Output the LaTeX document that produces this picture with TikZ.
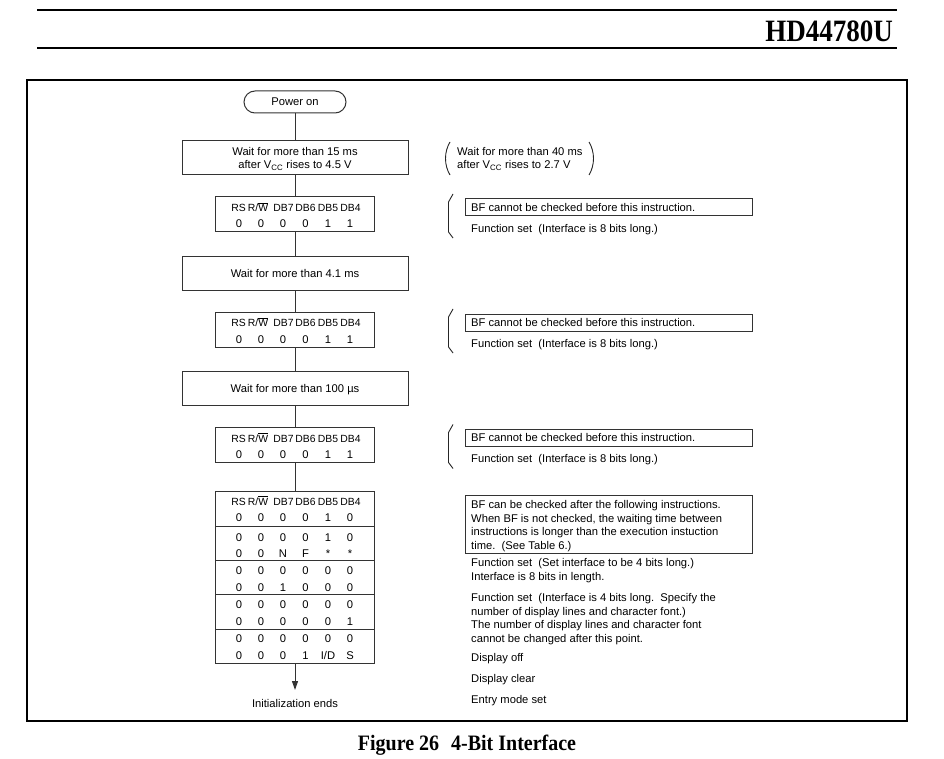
\documentclass[tikz,border=0pt]{standalone}
\usepackage{fontspec}
\setmainfont{Liberation Sans}
\newfontfamily\serifb{Liberation Serif}
\usetikzlibrary{arrows.meta}
\tikzset{
  lnc/.style={draw=black!80, line width=1pt},
  flowbox/.style={lnc, minimum width=226pt, minimum height=34pt, inner sep=0pt, align=center,
    font=\fontsize{11.2}{12}\selectfont},
  rsbox/.style={lnc, minimum width=159pt, minimum height=35pt, inner sep=0pt},
  notebox/.style={lnc, minimum width=287pt, minimum height=17pt, inner sep=0pt},
  conn/.style={draw=black!80, line width=1pt},
  txt/.style={inner sep=0pt, text height=8pt, text depth=0pt, font=\fontsize{11.2}{13.5}\selectfont},
  htxt/.style={inner sep=0pt, text height=8pt, text depth=0pt, font=\fontsize{10.4}{12}\selectfont},
  ltxt/.style={txt, anchor=west},
  brk/.style={draw=black!85, line width=0.9pt},
}
\newcommand\sixcells[8]{%
  \node[txt] (#1-1) at (239,#2) {#3};
  \node[txt] (#1-2) at (261,#2) {#4};
  \node[txt] (#1-3) at (283,#2) {#5};
  \node[txt] (#1-4) at (305.5,#2) {#6};
  \node[txt] (#1-5) at (328,#2) {#7};
  \node[txt] (#1-6) at (350,#2) {#8};}
\newcommand\headcells[2]{%
  \node[htxt] (#1-1) at (238.5,#2) {RS};
  \node[htxt] (#1-2) at (258,#2) {R/$\overline{\hbox{W}}$};
  \node[htxt] (#1-3) at (283.5,#2) {DB7};
  \node[htxt] (#1-4) at (305.5,#2) {DB6};
  \node[htxt] (#1-5) at (328,#2) {DB5};
  \node[htxt] (#1-6) at (350.5,#2) {DB4};}
\begin{document}
\begin{tikzpicture}[x=1pt,y=-1pt]
\path[use as bounding box, fill=white] (0,0) rectangle (944,759);
% header
\draw[line width=2.5pt] (37,10) -- (897,10);
\draw[line width=2.5pt] (37,48) -- (897,48);
\node[anchor=base east, inner sep=0pt, font=\serifb\bfseries\fontsize{27}{30}\selectfont] (title) at (893,42) {\scalebox{1}[1.15]{HD44780U}};
% frame
\draw[line width=2pt] (27,80) rectangle (907,721);
% caption
\node[anchor=base, inner sep=0pt, font=\serifb\bfseries\fontsize{20}{24}\selectfont] (caption) at (467,750) {\scalebox{1}[1.1]{Figure 26\hspace{0.6em}4-Bit Interface}};

% flow
\node[lnc, rounded corners=11pt, minimum width=102pt, minimum height=22pt, inner sep=0pt, text height=8pt, text depth=0pt, font=\fontsize{11.2}{13.5}\selectfont] (pwr) at (295,102) {Power on};
\node[flowbox] (wait1) at (295,158) {};
\node[txt] (w1a) at (295,152) {Wait for more than 15 ms};
\node[txt] (w1b) at (295,164.5) {after V\textsubscript{CC} rises to 4.5 V};
\node[rsbox] (rs1) at (295,214.5) {};
\node[flowbox, text height=8pt, text depth=0pt] (wait2) at (295,273) {Wait for more than 4.1 ms};
\node[rsbox] (rs2) at (295,329.5) {};
\node[flowbox, text height=8pt, text depth=0pt] (wait3) at (295,388) {Wait for more than 100 µs};
\node[rsbox] (rs3) at (295,445) {};
\node[lnc, minimum width=159pt, minimum height=172pt, inner sep=0pt] (tab) at (295,577) {};
\coordinate (endp) at (295,690);

\draw[conn] (pwr) -- (wait1);
\draw[conn] (wait1) -- (rs1);
\draw[conn] (rs1) -- (wait2);
\draw[conn] (wait2) -- (rs2);
\draw[conn] (rs2) -- (wait3);
\draw[conn] (wait3) -- (rs3);
\draw[conn] (rs3) -- (tab);
\draw[conn, -{Triangle[length=9pt,width=6pt]}] (tab) -- (endp);
\node[txt] (iends) at (295,703) {Initialization ends};

% table separators
\draw[conn] (tab.west |- 0,526) -- (tab.east |- 0,526);
\draw[conn] (tab.west |- 0,560.5) -- (tab.east |- 0,560.5);
\draw[conn] (tab.west |- 0,594.5) -- (tab.east |- 0,594.5);
\draw[conn] (tab.west |- 0,629) -- (tab.east |- 0,629);

% cells
\headcells{h1}{207.5}
\sixcells{v1}{224}{0}{0}{0}{0}{1}{1}
\headcells{h2}{322.5}
\sixcells{v2}{339}{0}{0}{0}{0}{1}{1}
\headcells{h3}{438}
\sixcells{v3}{454.5}{0}{0}{0}{0}{1}{1}
\headcells{h4}{501}
\sixcells{t1}{517}{0}{0}{0}{0}{1}{0}
\sixcells{t2}{537}{0}{0}{0}{0}{1}{0}
\sixcells{t3}{553}{0}{0}{N}{F}{*}{*}
\sixcells{t4}{570}{0}{0}{0}{0}{0}{0}
\sixcells{t5}{587}{0}{0}{1}{0}{0}{0}
\sixcells{t6}{604}{0}{0}{0}{0}{0}{0}
\sixcells{t7}{621}{0}{0}{0}{0}{0}{1}
\sixcells{t8}{638}{0}{0}{0}{0}{0}{0}
\sixcells{t9}{655}{0}{0}{0}{1}{I/D}{S}

% right notes
\draw[brk] (450,142) .. controls (444,152) and (444,165) .. (450,175);
\draw[brk] (589,142) .. controls (595,152) and (595,165) .. (589,175);
\node[ltxt] (n0a) at (457,152) {Wait for more than 40 ms};
\node[ltxt] (n0b) at (457,164.5) {after V\textsubscript{CC} rises to 2.7 V};

\draw[brk] (453,194) -- (448.5,202) -- (448.5,232) -- (453,238);
\node[notebox] (bf1) at (608.5,207.5) {};
\node[ltxt] (bf1t) at (471,207.5) {BF cannot be checked before this instruction.};
\node[ltxt] (fs1) at (471,228.5) {Function set~~(Interface is 8 bits long.)};

\draw[brk] (453,309) -- (448.5,317) -- (448.5,347) -- (453,353);
\node[notebox] (bf2) at (608.5,322.5) {};
\node[ltxt] (bf2t) at (471,322.5) {BF cannot be checked before this instruction.};
\node[ltxt] (fs2) at (471,343.5) {Function set~~(Interface is 8 bits long.)};

\draw[brk] (453,424.5) -- (448.5,432.5) -- (448.5,462.5) -- (453,468.5);
\node[notebox] (bf3) at (608.5,437.5) {};
\node[ltxt] (bf3t) at (471,437.5) {BF cannot be checked before this instruction.};
\node[ltxt] (fs3) at (471,458.5) {Function set~~(Interface is 8 bits long.)};

\node[lnc, minimum width=287pt, minimum height=58pt, inner sep=0pt] (bigbox) at (608.5,524) {};
\node[ltxt] (b1) at (471,504.5) {BF can be checked after the following instructions.};
\node[ltxt] (b2) at (471,518) {When BF is not checked, the waiting time between};
\node[ltxt] (b3) at (471,531.5) {instructions is longer than the execution instuction};
\node[ltxt] (b4) at (471,545) {time.~~(See Table 6.)};

\node[ltxt] (r1) at (471,562.5) {Function set~~(Set interface to be 4 bits long.)};
\node[ltxt] (r2) at (471,576) {Interface is 8 bits in length.};
\node[ltxt] (r3) at (471,597.5) {Function set~~(Interface is 4 bits long.~~Specify the};
\node[ltxt] (r4) at (471,611) {number of display lines and character font.)};
\node[ltxt] (r5) at (471,624.5) {The number of display lines and character font};
\node[ltxt] (r6) at (471,638) {cannot be changed after this point.};
\node[ltxt] (r7) at (471,657) {Display off};
\node[ltxt] (r8) at (471,678) {Display clear};
\node[ltxt] (r9) at (471,699) {Entry mode set};
\end{tikzpicture}
\end{document}
